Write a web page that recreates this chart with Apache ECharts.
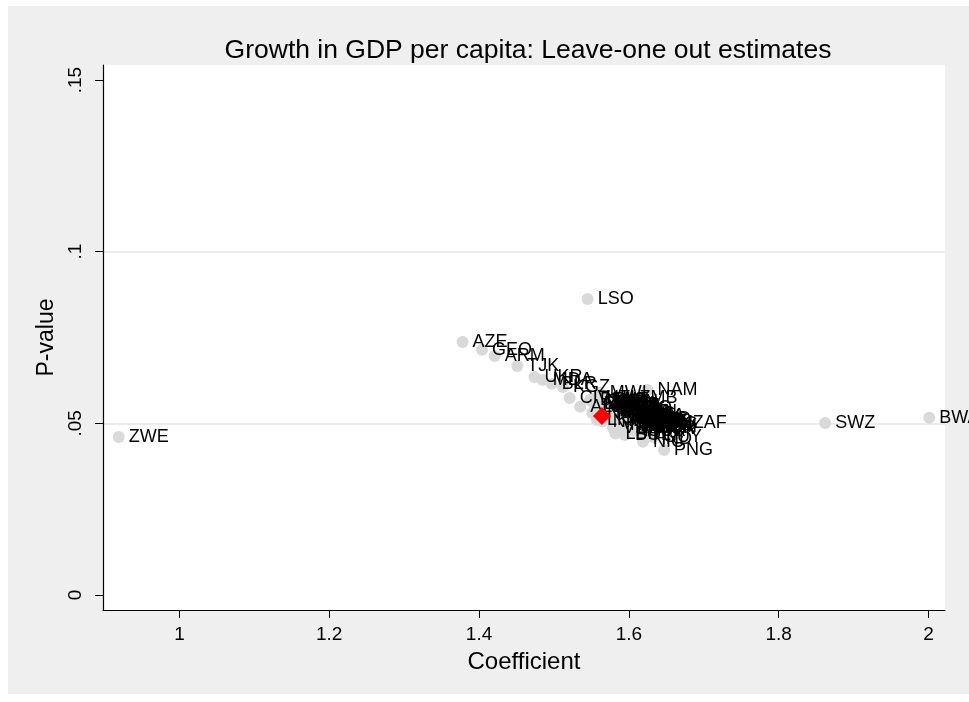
<!DOCTYPE html>
<html>
<head>
<meta charset="utf-8">
<script src="https://cdn.jsdelivr.net/npm/echarts@6/dist/echarts.min.js"></script>
<style>
  html, body { margin: 0; padding: 0; background: #ffffff; }
  #panel { position: absolute; left: 8px; top: 6px; width: 961px; height: 688px; background: #efefef; }
  #chart { position: absolute; left: 0; top: 0; width: 969px; height: 702px; }
</style>
</head>
<body>
<div id="panel"></div>
<div id="chart"></div>
<script>
// Leave-one-out estimates: each point is the coefficient / p-value obtained
// when the named country is dropped from the sample.
const countries = [
  'ZWE', 'LSO', 'AZE', 'GEO', 'ARM', 'TJK', 'UKR', 'MDA', 'BLR', 'KGZ',
  'CIV', 'ALB', 'MWI', 'NAM', 'ZMB', 'ZAF', 'PNG', 'SWZ', 'BWA',
  'BEN', 'BFA', 'CMR', 'CAF', 'TCD', 'COM', 'COD', 'DJI', 'EGY', 'ERI',
  'ETH', 'GAB', 'GMB', 'GHA', 'GIN', 'GNB', 'KEN', 'MDG', 'MLI', 'MRT',
  'MUS', 'MAR', 'MOZ', 'NER', 'NGA', 'RWA', 'SEN', 'SLE', 'SDN', 'TZA',
  'TGO', 'TUN', 'UGA', 'BGD', 'KHM', 'LAO', 'PAK', 'LKA', 'VNM', 'BOL',
  'NIC', 'IND', 'NPL', 'LBR', 'HND', 'GUY',
  'HTI', 'JAM', 'DOM', 'SLV', 'GTM', 'ECU', 'PER', 'PRY', 'COL', 'BRA',
  'ARG', 'CHL', 'MEX', 'PHL', 'THA', 'MYS', 'CHN', 'MNG', 'YEM', 'JOR',
  'SYR', 'IRN', 'TUR', 'LBN', 'SUR'
];
const coefficients = [
  0.919, 1.545, 1.378, 1.404, 1.421, 1.451, 1.474, 1.485, 1.497, 1.512,
  1.521, 1.535, 1.561, 1.625, 1.601, 1.672, 1.647, 1.862, 2.001,
  1.5481, 1.5534, 1.5574, 1.5614, 1.5641, 1.5681, 1.5708, 1.5734, 1.5761, 1.5788,
  1.5814, 1.5841, 1.5868, 1.5895, 1.5908, 1.5935, 1.5961, 1.5988, 1.6001, 1.6028,
  1.6055, 1.6081, 1.6108, 1.6135, 1.6161, 1.6188, 1.6215, 1.5668, 1.5748, 1.5828,
  1.5921, 1.6015, 1.6095, 1.6175, 1.5881, 1.5975, 1.6068, 1.5574, 1.5788, 1.5948,
  1.6188, 1.5510, 1.5650, 1.5820, 1.6188, 1.6322,
  1.5561, 1.5601, 1.5654, 1.5694, 1.5721, 1.5774, 1.5801, 1.5854, 1.5881, 1.5935,
  1.5975, 1.6015, 1.6041, 1.6095, 1.6121, 1.6148, 1.6201, 1.6228, 1.6255, 1.6281,
  1.5774, 1.5854, 1.5935, 1.6015, 1.6121
];
const pValues = [
  0.0460, 0.0862, 0.0737, 0.0714, 0.0696, 0.0667, 0.0635, 0.0626, 0.0615, 0.0606,
  0.0574, 0.0548, 0.0588, 0.0597, 0.0574, 0.0501, 0.0422, 0.0501, 0.0516,
  0.0568, 0.0556, 0.0565, 0.0550, 0.0559, 0.0542, 0.0553, 0.0536, 0.0545, 0.0530,
  0.0539, 0.0524, 0.0533, 0.0518, 0.0527, 0.0513, 0.0521, 0.0507, 0.0516, 0.0501,
  0.0510, 0.0495, 0.0504, 0.0489, 0.0498, 0.0484, 0.0492, 0.0568, 0.0562, 0.0553,
  0.0545, 0.0533, 0.0521, 0.0513, 0.0495, 0.0486, 0.0478, 0.0510, 0.0486, 0.0466,
  0.0446, 0.0530, 0.0505, 0.0470, 0.0455, 0.0460,
  0.0574, 0.0562, 0.0556, 0.0562, 0.0548, 0.0551, 0.0542, 0.0542, 0.0530, 0.0533,
  0.0527, 0.0519, 0.0521, 0.0513, 0.0507, 0.0510, 0.0501, 0.0498, 0.0489, 0.0486,
  0.0516, 0.0507, 0.0498, 0.0492, 0.0478
];

// Full-sample estimate (red diamond)
const fullCoefficient = [1.564];
const fullPValue = [0.0521];

// Axis ticks and gridlines
const xTicks = [1, 1.2, 1.4, 1.6, 1.8, 2];
const xTickLabels = ['1', '1.2', '1.4', '1.6', '1.8', '2'];
const yTicks = [0, 0.05, 0.1, 0.15];
const yTickLabels = ['0', '.05', '.1', '.15'];
const yGridValues = [0.05, 0.1];
const xRange = [0.898, 2.022];
const yRange = [-0.0044, 0.1544];

const FONT = '"Liberation Sans", Arial, Helvetica, sans-serif';

function tickText(ticks, labels) {
  return function (v) {
    for (let i = 0; i < ticks.length; i++) {
      if (Math.abs(ticks[i] - v) < 1e-9) return labels[i];
    }
    return '';
  };
}

const chart = echarts.init(document.getElementById('chart'), null, { renderer: 'canvas' });

chart.setOption({
  animation: false,
  backgroundColor: 'transparent',
  title: {
    text: 'Growth in GDP per capita: Leave-one out estimates',
    left: 523,
    top: 32,
    textAlign: 'center',
    textStyle: { fontFamily: FONT, fontSize: 26.5, fontWeight: 'normal', color: '#000' }
  },
  grid: {
    left: 103, right: 24, top: 65, bottom: 92,
    show: true, backgroundColor: '#ffffff', borderWidth: 0
  },
  xAxis: {
    type: 'value',
    min: xRange[0], max: xRange[1],
    name: 'Coefficient',
    nameLocation: 'middle',
    nameGap: 40,
    nameTextStyle: { fontFamily: FONT, fontSize: 24, color: '#000' },
    axisLine: { show: true, onZero: false, lineStyle: { color: '#000', width: 1.2 } },
    axisTick: { show: true, length: 8, customValues: xTicks, lineStyle: { color: '#000', width: 1 } },
    axisLabel: {
      customValues: xTicks, formatter: tickText(xTicks, xTickLabels),
      fontFamily: FONT, fontSize: 19, color: '#000', margin: 15
    },
    splitLine: { show: false }
  },
  yAxis: {
    type: 'value',
    min: yRange[0], max: yRange[1],
    name: 'P-value',
    nameLocation: 'middle',
    nameRotate: 90,
    nameGap: 43,
    nameTextStyle: { fontFamily: FONT, fontSize: 23, color: '#000' },
    axisLine: { show: true, onZero: false, lineStyle: { color: '#000', width: 1.2 } },
    axisTick: { show: true, length: 8, customValues: yTicks, lineStyle: { color: '#000', width: 1 } },
    axisLabel: {
      customValues: yTicks, formatter: tickText(yTicks, yTickLabels),
      rotate: 90, fontFamily: FONT, fontSize: 19, color: '#000', margin: 18
    },
    splitLine: { show: false }
  },
  series: [
    {
      // horizontal gridlines, kept underneath markers and labels
      type: 'scatter',
      data: [],
      z: 0,
      markLine: {
        z: 0,
        silent: true,
        symbol: 'none',
        label: { show: false },
        lineStyle: { color: '#e6e6e6', width: 1.5, type: 'solid' },
        data: yGridValues.map(v => ({ yAxis: v }))
      }
    },
    {
      name: 'Leave-one-out',
      type: 'scatter',
      z: 2,
      symbol: 'circle',
      symbolSize: 12,
      itemStyle: { color: '#d9d9d9', opacity: 1 },
      label: {
        show: true,
        position: 'right',
        distance: 4,
        formatter: '{b}',
        fontFamily: FONT,
        fontSize: 18,
        color: '#000',
        textBorderWidth: 0,
        textBorderColor: 'transparent',
        textShadowBlur: 0
      },
      data: countries.map((c, i) => ({ name: c, value: [coefficients[i], pValues[i]] }))
    },
    {
      name: 'Full sample',
      type: 'scatter',
      z: 3,
      symbol: 'diamond',
      symbolSize: 18,
      itemStyle: { color: '#ff0000', opacity: 1 },
      data: fullCoefficient.map((c, i) => [c, fullPValue[i]])
    }
  ]
});
</script>
</body>
</html>
